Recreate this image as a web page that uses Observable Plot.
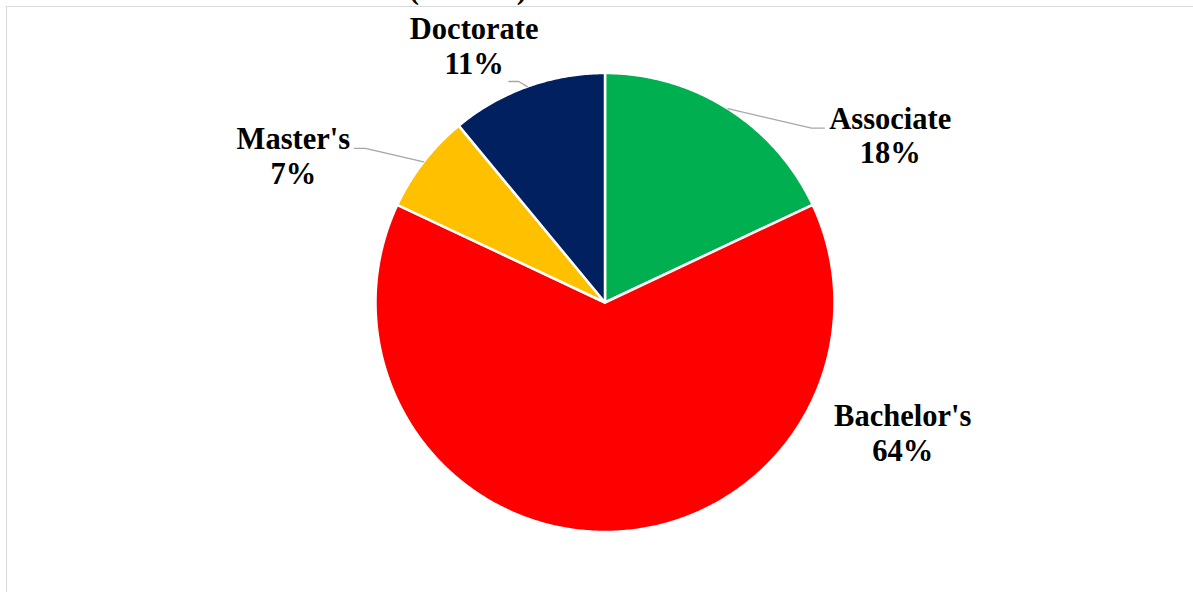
<!DOCTYPE html>
<html>
<head>
<meta charset="utf-8">
<script src="https://cdn.jsdelivr.net/npm/d3@7"></script>
<script src="https://cdn.jsdelivr.net/npm/@observablehq/plot@0.6"></script>
<style>
html, body { margin: 0; padding: 0; background: #fff; overflow: hidden; }
#wrap { position: relative; width: 1193px; height: 592px; overflow: hidden; background: #fff; }
#frame { position: absolute; left: 6px; top: 6px; width: 1400px; height: 800px; border: 1.6px solid #d9d9d9; box-sizing: border-box; pointer-events: none; }
#title { position: absolute; left: 409px; top: -26px; font: bold 30px "Liberation Serif", "Times New Roman", serif; line-height: 30px; white-space: nowrap; color: #000; }
#chart { position: absolute; left: 0; top: 0; }
</style>
</head>
<body>
<div id="wrap">
  <div id="title">(Percent)</div>
  <div id="frame"></div>
  <div id="chart"></div>
</div>
<script>
// ---- data ----
const categories = ["Associate", "Bachelor's", "Master's", "Doctorate"];
const percents = [18, 64, 7, 11];
const colors = ["#00B050", "#FF0000", "#FFC000", "#002060"];

// ---- label layout (annotation placement, in pie-radius units) ----
const labelX = [1.243, 1.297, -1.358, -0.570];
const labelY = [0.730, -0.565, 0.640, 1.122];
// leader elbows (null = no leader line)
const elbowX = [0.900, null, -1.044, -0.376];
const elbowY = [0.760, null, 0.672, 0.963];
const endX = [0.956, null, -1.092, -0.419];

// ---- build geometry from data ----
const arcs = d3.pie().sort(null).value(d => d)(percents);
const slicePts = [];
arcs.forEach((a, i) => {
  const cat = categories[i];
  slicePts.push({cat, x: 0, y: 0});
  const n = Math.max(2, Math.ceil((a.endAngle - a.startAngle) / (Math.PI / 360)));
  for (let k = 0; k <= n; k++) {
    const t = a.startAngle + (a.endAngle - a.startAngle) * k / n;
    slicePts.push({cat, x: Math.sin(t), y: Math.cos(t)});
  }
  slicePts.push({cat, x: 0, y: 0});
});

const leaderPts = [];
arcs.forEach((a, i) => {
  if (elbowX[i] == null) return;
  const m = (a.startAngle + a.endAngle) / 2;
  const cat = categories[i];
  leaderPts.push({cat, x: Math.sin(m), y: Math.cos(m)});
  leaderPts.push({cat, x: elbowX[i], y: elbowY[i]});
  leaderPts.push({cat, x: endX[i], y: elbowY[i]});
});

const labels = categories.map((c, i) => ({
  cat: c, pct: percents[i], x: labelX[i], y: labelY[i]
}));

const chart = Plot.plot({
  width: 1193,
  height: 592,
  margin: 0,
  x: {domain: [-1, 1], range: [375, 834], axis: null},
  y: {domain: [-1, 1], range: [531.5, 72.5], axis: null},
  color: {domain: categories, range: colors},
  style: {background: "transparent", overflow: "visible"},
  marks: [
    Plot.line(slicePts, {
      x: "x", y: "y", z: "cat", fill: "cat",
      stroke: "white", strokeWidth: 2.5, strokeLinejoin: "round", curve: "linear"
    }),
    Plot.line(leaderPts, {
      x: "x", y: "y", z: "cat", stroke: "#a6a6a6", strokeWidth: 1.3, curve: "linear"
    }),
    Plot.text(labels, {
      x: "x", y: "y",
      text: d => `${d.cat}\n${d.pct}%`,
      fontSize: 30.5, fontWeight: "bold",
      fontFamily: "Liberation Serif, Times New Roman, serif",
      lineHeight: 1.14, textAnchor: "middle", lineAnchor: "middle",
      fill: "black"
    })
  ]
});
document.getElementById("chart").appendChild(chart);
</script>
</body>
</html>
